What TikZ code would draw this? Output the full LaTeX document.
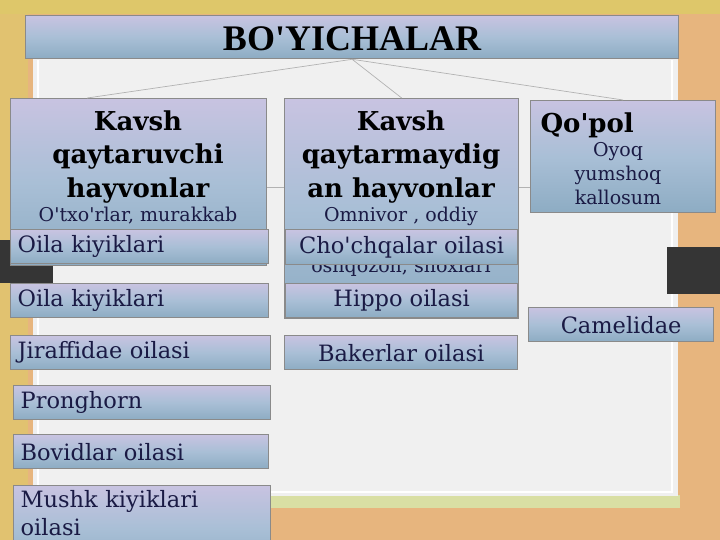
\documentclass[tikz,border=0pt]{standalone}
\usepackage{fontspec}
\usetikzlibrary{calc}
\setmainfont{DejaVu Serif}
\newfontfamily\titlefont{Liberation Serif}
\newcommand{\ap}{\textquotesingle}
\definecolor{lav}{HTML}{C8C3E1}
\definecolor{blu}{HTML}{8DACC3}
\definecolor{midb}{HTML}{A9BFD6}
\definecolor{edge}{HTML}{8A8A8A}
\definecolor{txt}{HTML}{1A1A44}
\definecolor{bgor}{HTML}{E7B57E}
\definecolor{bgye}{HTML}{DEC76A}
\definecolor{panel}{HTML}{F0F0F0}
\definecolor{dark}{HTML}{353535}
\definecolor{strip}{HTML}{D9DFA4}
\tikzset{
  boxbase/.style={draw=edge, line width=1.3pt, top color=lav, bottom color=blu, middle color=midb, inner sep=0pt},
  fam/.style={boxbase, anchor=north west, minimum height=34pt, text width=#1, align=left, inner xsep=7pt, text=txt,
     font=\fontsize{22.5}{26}\selectfont},
  famc/.style={boxbase, anchor=north west, minimum height=34pt, minimum width=#1, text=txt,
     font=\fontsize{22.5}{26}\selectfont},
  hdr/.style={boxbase, anchor=north west},
  htitle/.style={anchor=base, text=black, font=\fontsize{26}{33}\selectfont\bfseries, align=center},
  hsub/.style={anchor=base, text=txt, font=\fontsize{19}{24}\selectfont},
  conn/.style={draw=gray!60, line width=0.7pt},
}
\begin{document}
\begin{tikzpicture}[x=1pt,y=-1pt]
\useasboundingbox (0,0) rectangle (720,540);
% background
\fill[bgor] (0,0) rectangle (720,540);
\fill[bgye] (0,0) rectangle (720,14);
\fill[bgye!70!bgor] (0,14) rectangle (28,540);
\fill[strip] (33,495) rectangle (680,508);
\fill[panel] (33,20) rectangle (678,496);
\draw[white, line width=2pt] (38,60) -- (38,492) -- (672,492) -- (672,60);
\fill[dark] (0,240) rectangle (53,283);
\fill[dark] (667,247) rectangle (720,294);

% title
\node[boxbase, anchor=north west, minimum width=653pt, minimum height=43pt] (title) at (25,15) {};
\node[anchor=center, font=\titlefont\fontsize{36}{40}\selectfont\bfseries, text=black] (titletext) at (352,39) {BO\ap YICHALAR};

% helper coordinates
\coordinate (lineY) at (0,187);

% headers
\node[hdr, minimum width=256pt, minimum height=167pt] (hdrL) at (10,98) {};
\node[hdr, minimum width=234pt, minimum height=220pt] (hdrM) at (284,98) {};
\node[hdr, minimum width=185pt, minimum height=112pt] (hdrQ) at (530,100) {};

% connectors
\draw[conn] (title.south) -- ($(hdrL.north west)!0.3!(hdrL.north east)$);
\draw[conn] (title.south) -- (hdrM.north);
\draw[conn] (title.south) -- (hdrQ.north);
\draw[conn] (hdrL.east |- lineY) -- (hdrM.west |- lineY);
\draw[conn] (hdrM.east |- lineY) -- (hdrQ.west |- lineY);

% header texts
\node[htitle] (tL1) at (138,131) {Kavsh};
\node[htitle] (tL2) at (138,164) {qaytaruvchi};
\node[htitle] (tL3) at (138,197) {hayvonlar};
\node[hsub] (sL1) at (138,222) {O\ap txo\ap rlar, murakkab};

\node[htitle] (tM1) at (401,131) {Kavsh};
\node[htitle] (tM2) at (401,164) {qaytarmaydig};
\node[htitle] (tM3) at (401,197) {an hayvonlar};
\node[hsub] (sM1) at (401,222) {Omnivor , oddiy};
\node[hsub] (sM2) at (401,272) {oshqozon, shoxlari};

\node[htitle, anchor=base west] (tQ1) at (537,133) {Qo\ap pol};
\node[hsub] (sQ1) at (618,157) {Oyoq};
\node[hsub] (sQ2) at (618,181) {yumshoq};
\node[hsub] (sQ3) at (618,205) {kallosum};

% left family boxes
\node[fam=244pt] (f1) at (10,229) {Oila kiyiklari};
\node[fam=244pt] (f2) at (10,283) {Oila kiyiklari};
\node[fam=246pt] (f3) at (10,335) {Jiraffidae oilasi};
\node[fam=243pt] (f4) at (13,385) {Pronghorn};
\node[fam=241pt] (f5) at (13,434) {Bovidlar oilasi};
\node[boxbase, anchor=north west, text width=243pt, minimum height=70pt, align=left, inner xsep=7pt, inner ysep=5pt, text=txt,
     font=\fontsize{22.5}{28}\selectfont] (f6) at (13,485) {Mushk kiyiklari\\oilasi\\[-6pt]\strut};

% middle family boxes
\node[famc=232pt, minimum height=35pt] (m1) at (285,229) {Cho\ap chqalar oilasi};
\node[famc=232pt] (m2) at (285,283) {Hippo oilasi};
\node[famc=233pt] (m3) at (284,335) {Bakerlar oilasi};

% right family box
\node[famc=185pt] (r1) at (528,307) {Camelidae};
\end{tikzpicture}
\end{document}
